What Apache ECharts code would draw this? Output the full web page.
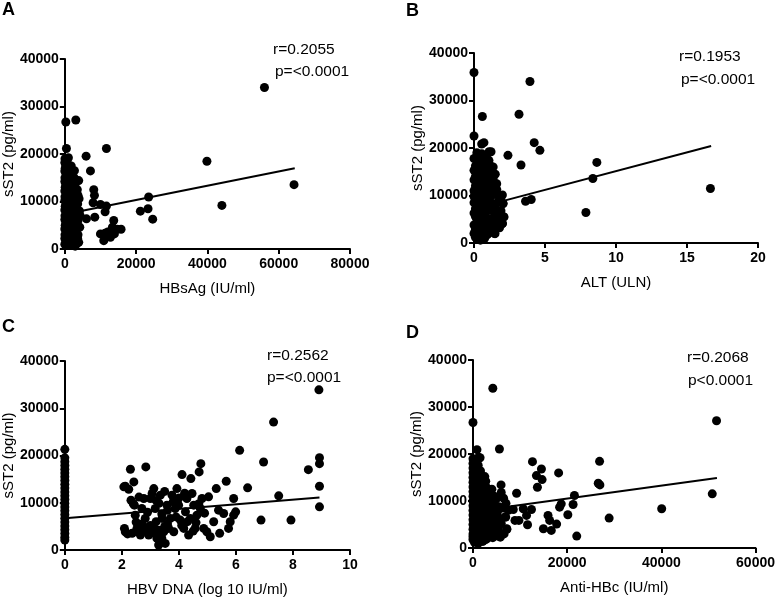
<!DOCTYPE html>
<html><head><meta charset="utf-8">
<script src="https://cdn.jsdelivr.net/npm/echarts@6/dist/echarts.min.js"></script>
<style>html,body{margin:0;padding:0;background:#fff}#c{width:778px;height:598px}</style>
</head><body><div id="c"></div>
<script>
// Panel A: HBsAg (IU/ml) vs sST2 (pg/ml)
const hbsagPts = [
[280,26740],[3080,27160],[450,21160],[56000,34000],[39860,18480],[64300,13550],[44060,9170],
[23520,10940],[23340,8470],[21190,7970],[24650,6280],[11670,21160],[5970,19540],[7190,16440],
[8120,12490],[8310,11290],[7930,9740],[8400,6700],[6070,6350],[9990,9380],[11670,9030],[11300,7830],
[13720,6000],[13350,4590],[14660,4160],[15780,4160],[9990,3170],[11300,3320],[10920,1760],[12790,2470],
[13900,3170],[12040,3600],
[50,19000],[150,18000],[100,17000],[300,16000],[50,15000],[200,14000],[100,13000],[400,12000],[50,11000],
[250,10000],[100,9000],[350,8000],[50,7000],[200,6000],[100,5000],[300,4000],[50,3000],[200,2000],[400,1200],
[600,18500],[800,17500],[700,16200],[900,15000],[600,13800],[1000,12600],[700,11400],[900,10200],[600,9000],
[1000,7800],[800,6600],[700,5400],[900,4200],[600,3000],[1000,1800],[800,800],
[1300,17000],[1500,15500],[1200,14200],[1600,13000],[1400,11500],[1300,10000],[1600,8500],[1200,7200],
[1500,6000],[1400,4700],[1300,3400],[1600,2200],[1500,1000],
[1900,16000],[2100,14500],[2000,12800],[2300,11200],[1900,9600],[2200,8200],[2000,6800],[2300,5500],
[2100,4000],[1900,2700],[2200,1500],
[2600,15000],[2800,13400],[2500,11800],[2900,10500],[2700,9000],[2600,7500],[2800,6000],[2500,4600],
[2900,3300],[2700,2000],
[3300,14300],[3500,12500],[3200,11000],[3600,9500],[3400,8000],[3300,6500],[3500,5000],[3200,3500],
[3600,2200],[3400,1200],[3900,14400],[4000,10600],[4100,8000],[4200,4600],[3900,1400],[4300,7000],
[0,18200],[0,16400],[0,14200],[0,12200],[0,10200],[0,8200],[0,6200],[0,4200],[0,2200],[0,1000],
[1000,19200],[1100,16800],[1100,13600],[1100,11000],[1100,8800],[1100,6300],[1100,3600],[1100,2600],
[1800,17500],[1800,14000],[1800,11800],[1800,10600],[1800,7800],[1800,5100],[1800,3700],[1800,1200],
[2400,13600],[2400,9400],[2400,7200],[2400,3600],[2400,2500],[3000,12300],[3000,8400],[3000,5600],[3000,2600],
[3700,11300],[3700,6000],[3700,3000],[2700,16500],[2900,600]
];
const hbsagFit = [[0,7300],[64500,17000]];

// Panel B: ALT (ULN) vs sST2
const altPts = [
[0,35900],[0,22530],[0.59,26620],[0.70,21130],[0.54,20840],[3.94,34010],[3.17,27110],[4.24,21130],
[4.64,19510],[2.39,18450],[3.31,16410],[8.65,16970],[8.37,13590],[16.65,11480],[7.88,6410],[4.03,9150],
[3.63,8800],[1.81,10070],[2.04,8310],[2.11,5490],[2.0,4080],[1.06,19220],[1.48,1970],
[0,17800],[0,15300],[0,13300],[0,11000],[0,9800],[0,8500],[0,6300],[0,3800],[0,2000],
[0.2,19000],[0.3,17000],[0.25,15500],[0.35,14000],[0.2,12500],[0.3,11000],[0.4,9500],[0.25,8000],
[0.35,6500],[0.2,5000],[0.3,3500],[0.4,2200],[0.3,800],
[0.55,18800],[0.6,17500],[0.5,16000],[0.7,14700],[0.6,13200],[0.5,11800],[0.65,10300],[0.55,9000],
[0.7,7600],[0.5,6200],[0.6,4800],[0.7,3500],[0.55,2000],[0.65,1200],
[0.85,18200],[0.9,16800],[0.8,15200],[1.0,13800],[0.85,12300],[0.95,10800],[0.8,9500],[1.0,8100],
[0.9,6700],[0.85,5300],[1.0,4000],[0.8,2700],[0.95,1800],
[1.2,19200],[1.1,16500],[1.3,14600],[1.2,12800],[1.35,11200],[1.15,9700],[1.3,8300],[1.2,6900],
[1.4,5500],[1.25,4200],[1.1,3000],[1.45,2000],
[1.6,10200],[1.7,8700],[1.55,7200],[1.75,5800],[1.6,4500],[1.8,3200],[2.0,10100],[2.05,8300],
[2.1,5500],[2.0,4100],[1.9,6800],[1.5,14500],
[0.1,16200],[0.1,14000],[0.1,12000],[0.1,10400],[0.1,7200],[0.1,5600],[0.1,2800],[0.1,1200],
[0.45,18000],[0.45,15000],[0.45,12800],[0.45,10600],[0.45,8600],[0.45,7000],[0.45,4200],[0.45,2800],[0.45,600],
[0.75,16000],[0.75,13000],[0.75,11200],[0.75,9000],[0.75,5800],[0.75,4400],[0.75,2200],[0.75,1000],
[1.05,17400],[1.05,15000],[1.05,12000],[1.05,9000],[1.05,7300],[1.05,5000],[1.05,2400],
[1.35,16000],[1.35,13500],[1.35,10200],[1.35,7600],[1.35,4800],[1.35,3400],
[1.6,12500],[1.6,11300],[1.65,6400],[1.7,3800],[1.85,9200],[1.9,5200]
];
const altFit = [[0,7240],[16.7,20420]];

// Panel C: HBV DNA (log10 IU/ml) vs sST2
const dnaPts = [
[0,21300],[0,19500],[0,18700],[0,17900],[0,17100],[0,16300],[0,15500],[0,14700],[0,13900],[0,13100],
[0,12300],[0,11500],[0,10700],[0,9900],[0,9100],[0,8300],[0,7500],[0,6700],[0,5900],[0,5100],
[0,4300],[0,3500],[0,2700],[0,2100],
[8.91,33890],[7.32,27070],[6.13,21090],[6.97,18630],[8.93,19540],[8.93,18280],[8.54,17010],[8.93,13500],
[8.93,9140],[6.41,13150],[7.50,11460],[6.88,6330],[7.93,6330],[5.66,14550],[5.92,10900],[5.99,8080],
[4.77,18280],[4.71,16520],[4.11,15960],[4.42,15110],[2.30,17080],[2.84,17580],[2.42,14410],[2.12,13500],
[2.24,12860],
[2.07,13360],[2.12,3870],[2.09,4570],[2.36,3520],[2.32,10540],[2.44,9490],[2.47,7380],[2.53,4570],
[2.65,3160],[2.77,10900],[2.82,6680],[2.88,3870],[2.94,3160],[3.0,10900],[3.06,11950],[3.12,13000],
[3.17,8780],[3.14,4570],[3.23,2460],[3.29,1050],[3.35,11600],[3.41,6680],[3.47,3870],[3.52,1400],
[3.58,9490],[3.64,4570],[3.70,6680],[3.76,11600],[3.82,3870],[3.87,8780],[3.93,13000],[3.99,9490],
[4.05,6330],[4.17,4570],[4.23,8080],[4.28,10900],[4.34,3160],[4.40,6680],[4.46,11950],[4.52,9490],
[4.57,4570],[4.63,7380],[4.75,8780],[4.81,10900],[4.87,4570],[4.98,3870],[5.04,11250],[5.10,2810],
[5.22,5980],[5.31,13000],[5.39,8430],[5.43,3520],[5.57,7730],[5.74,4570],[5.80,5980],[5.92,7380],
[2.6,11200],[2.7,5500],[3.0,5200],[3.2,6000],[3.4,2500],[3.6,5500],[2.9,8000],[3.3,9900],[2.5,5900],
[2.2,3400],[2.6,4200],[2.8,4800],[3.1,3600],[3.3,4200],[3.5,5000],[3.4,7600],[3.2,10500],[3.6,8400],
[3.9,7000],[4.1,5200],[4.3,6000],[4.5,4000],[4.6,5800],[4.7,9800],[4.9,7800],[4.2,12000],[3.8,10200],
[2.4,9800],[2.7,8800],[3.0,4000],[3.5,12400],[4.0,11000],[3.3,3100],[2.5,3900]
];
const dnaFit = [[0,6700],[8.93,11100]];

// Panel D: Anti-HBc (IU/ml) vs sST2
const antiPts = [
[4210,33990],[0,26710],[51720,27070],[50810,11520],[40070,8340],[28910,6360],[26880,18440],[26600,13780],
[26950,13430],[22030,2540],[21540,11170],[21260,9260],[20140,7070],[18740,9400],[18390,8690],[18180,15970],
[17760,5090],[16630,3750],[16280,5870],[15930,6930],[14950,4100],[14530,16820],[14670,14560],[13470,15410],
[13680,12930],[12630,18370],[12420,8200],[11580,4950],[11370,6930],[9260,11660],[9750,5870],[8910,5870],
[10670,8340],[8560,8200],[5610,21060],[5960,13430],[6950,6570],[7160,4100],[5400,2690],[840,20920],
[1190,19290],[1050,16680],[2250,15050],
[0,19000],[0,17000],[0,15000],[0,13000],[0,11000],[0,9000],[0,7000],[0,5000],[0,3000],[0,1800],
[500,18500],[800,16600],[400,14500],[900,12800],[600,11000],[300,9500],[1000,8000],[500,6500],[800,5000],
[400,3500],[900,2200],[600,1400],
[1500,19200],[1300,16500],[1800,15000],[1400,13500],[2000,12000],[1600,10500],[1200,9000],[1900,7600],
[1500,6200],[1300,4800],[1800,3300],[1600,1500],[2000,2200],
[2500,15200],[2800,13000],[3000,11500],[2400,10000],[3300,9000],[2600,7500],[3100,6300],[2300,5000],
[3400,3800],[2700,2800],[3000,2000],
[4000,12500],[4500,11000],[3800,9800],[5000,10500],[4300,8300],[5200,7700],[4700,6300],[3900,5200],
[5400,4500],[4400,3600],[5000,2600],[4200,2200],
[6000,11800],[6500,10600],[7000,9500],[6300,8500],[7500,8000],[6800,6600],[6000,5200],[7200,4000],
[6600,3000],[5800,2300],
[0,18000],[0,16000],[0,14000],[0,12000],[0,10000],[0,8000],[0,6000],[0,4000],[0,2400],
[300,17600],[300,15600],[300,13600],[300,12000],[300,7600],[300,5600],[300,2600],[300,1200],
[700,18000],[700,15400],[700,12000],[700,9800],[700,8800],[700,7200],[700,4200],[700,2800],
[1100,17600],[1100,14200],[1100,11600],[1100,10000],[1100,6800],[1100,5600],[1100,3800],[1100,1000],
[1600,16400],[1600,14000],[1600,12400],[1600,8600],[1600,7000],[1600,4000],[1600,2700],
[2100,14400],[2100,10800],[2100,9200],[2100,6600],[2100,4300],[2100,3000],[2100,1400],
[2700,14200],[2700,11000],[2700,8600],[2700,6400],[2700,4400],[2700,1800],
[3400,12400],[3400,10600],[3400,7600],[3400,5600],[3400,2800],
[4200,10200],[4200,7000],[4200,4600],[4800,9000],[4800,5200],[4800,3200],[5500,8800],[5500,6400],[5500,3400]
];
const antiFit = [[0,7750],[51800,14900]];

const xNames = ['HBsAg (IU/ml)','ALT (ULN)','HBV DNA (log 10 IU/ml)','Anti-HBc (IU/ml)'];
const xMax = [80000,20,10,60000];
const xInterval = [20000,5,2,20000];
const yMax = 40000, yInterval = 10000;
const letters = ['A','B','C','D'];
const rTexts = ['r=0.2055','r=0.1953','r=0.2562','r=0.2068'];
const pTexts = ['p=<0.0001','p=<0.0001','p=<0.0001','p<0.0001'];

const FONT = 'Liberation Sans';
const grids = [
  {left:64, top:59, width:286, height:190},
  {left:474, top:53, width:284, height:190},
  {left:64, top:361, width:286, height:190},
  {left:473, top:360, width:285, height:188}
];
const ptsList = [hbsagPts, altPts, dnaPts, antiPts];
const fitList = [hbsagFit, altFit, dnaFit, antiFit];

function mkAxis(extra, margin){
  return Object.assign({
    axisLine:{show:true, onZero:false, lineStyle:{color:'#000', width:2}},
    axisTick:{show:true, inside:false, length:5, lineStyle:{color:'#000', width:2}},
    axisLabel:{color:'#000', fontWeight:700, fontSize:14, fontFamily:FONT, margin:margin,
      formatter:function(v){return String(v);}},
    splitLine:{show:false},
    nameTextStyle:{color:'#000', fontSize:15, fontFamily:FONT},
    nameLocation:'middle'
  }, extra);
}

const option = {
  animation:false,
  backgroundColor:'#fff',
  grid: grids,
  xAxis: grids.map((g,i)=>mkAxis({
    type:'value', gridIndex:i, min:0, max:xMax[i], interval:xInterval[i],
    name:xNames[i], nameGap:32
  }, 8)),
  yAxis: grids.map((g,i)=>mkAxis({
    type:'value', gridIndex:i, min:0, max:yMax, interval:yInterval,
    name:'sST2 (pg/ml)', nameGap:48
  }, 6)),
  series: [].concat(
    ptsList.map((p,i)=>({type:'scatter', xAxisIndex:i, yAxisIndex:i, data:p, symbol:'circle', symbolSize:9,
      itemStyle:{color:'#000', opacity:1}, z:2})),
    fitList.map((f,i)=>({type:'line', xAxisIndex:i, yAxisIndex:i, data:f, symbol:'none',
      lineStyle:{color:'#000', width:2}, z:3}))
  ),
  graphic: [].concat(
    letters.map((l,i)=>({type:'text', left:[2,406,2,406][i], top:[1,2,318,324][i],
      style:{text:l, font:'bold 18px '+FONT, fill:'#000'}})),
    rTexts.map((t,i)=>({type:'text', left:[273,679,267,687][i], top:[42,49,348,350][i],
      style:{text:t, font:'15.5px '+FONT, fill:'#000'}})),
    pTexts.map((t,i)=>({type:'text', left:[275,681,267,688][i], top:[64,72,370,373][i],
      style:{text:t, font:'15.5px '+FONT, fill:'#000'}}))
  )
};
const chart = echarts.init(document.getElementById('c'), null, {renderer:'canvas'});
chart.setOption(option);
</script></body></html>
